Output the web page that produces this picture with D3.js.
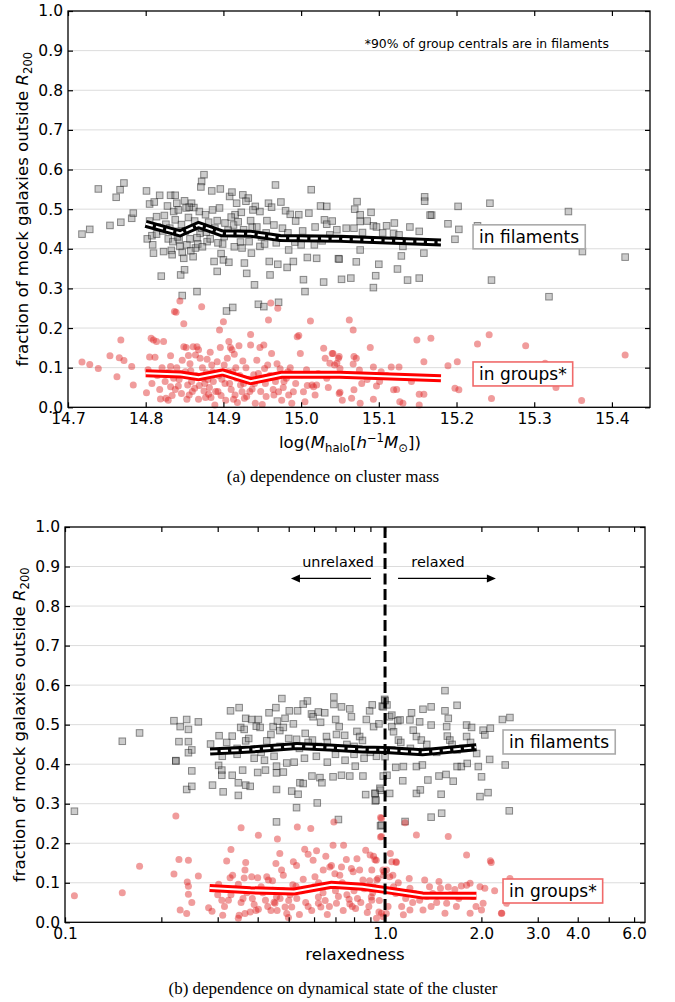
<!DOCTYPE html>
<html><head><meta charset="utf-8">
<script src="https://cdn.jsdelivr.net/npm/d3@7"></script>
<style>body{margin:0;background:#fff}svg{display:block}</style>
</head><body>
<svg id="c" width="675" height="1002"></svg>
<script>
// ---------------- DATA ----------------
// Panel (a): log halo mass vs fraction
const massFilaments = [
[14.718,0.437],[14.728,0.449],[14.739,0.551],[14.754,0.459],[14.762,0.530],[14.767,0.549],[14.772,0.566],[14.768,0.467],[14.782,0.477],[14.784,0.490],
[14.801,0.546],[14.805,0.513],[14.802,0.425],[14.808,0.433],[14.810,0.389],[14.809,0.410],[14.814,0.481],[14.814,0.437],[14.818,0.535],[14.811,0.518],
[14.820,0.331],[14.823,0.393],[14.824,0.484],[14.828,0.508],[14.832,0.535],[14.829,0.425],[14.833,0.396],[14.834,0.385],[14.838,0.535],[14.836,0.494],
[14.840,0.515],[14.838,0.473],[14.842,0.498],[14.840,0.444],[14.843,0.423],[14.844,0.406],[14.847,0.391],[14.849,0.376],[14.845,0.334],[14.850,0.347],
[14.850,0.521],[14.852,0.503],[14.847,0.282],[14.853,0.410],[14.855,0.479],[14.857,0.425],[14.859,0.515],[14.862,0.504],[14.861,0.380],[14.864,0.402],
[14.867,0.412],[14.866,0.292],[14.870,0.439],[14.872,0.452],[14.869,0.494],[14.875,0.587],[14.872,0.570],[14.871,0.556],[14.877,0.486],[14.879,0.418],
[14.881,0.467],[14.885,0.546],[14.888,0.368],[14.892,0.343],[14.892,0.471],[14.895,0.503],[14.896,0.551],[14.899,0.412],[14.900,0.372],[14.901,0.431],
[14.904,0.243],[14.907,0.366],[14.908,0.532],[14.911,0.543],[14.912,0.252],[14.913,0.460],[14.915,0.486],[14.917,0.515],[14.918,0.439],[14.922,0.417],
[14.924,0.402],[14.925,0.536],[14.927,0.364],[14.930,0.338],[14.932,0.528],[14.935,0.471],[14.936,0.389],[14.937,0.454],[14.940,0.309],[14.941,0.507],
[14.945,0.260],[14.947,0.406],[14.947,0.494],[14.952,0.254],[14.953,0.412],[14.956,0.471],[14.958,0.515],[14.959,0.368],[14.960,0.334],[14.965,0.460],
[14.967,0.561],[14.970,0.361],[14.971,0.265],[14.974,0.518],[14.980,0.496],[14.982,0.353],[14.984,0.397],[14.986,0.487],[14.990,0.368],[14.992,0.417],
[14.997,0.486],[15.000,0.410],[15.003,0.322],[15.005,0.292],[15.008,0.378],[15.013,0.549],[15.017,0.410],[15.020,0.376],[15.025,0.508],[15.029,0.316],
[15.030,0.473],[15.033,0.507],[15.033,0.462],[15.037,0.435],[15.046,0.448],[15.048,0.375],
[15.072,0.519],[15.069,0.500],[15.076,0.486],[15.090,0.492],[15.159,0.531],[15.159,0.520],[15.168,0.485],[15.202,0.507],[15.243,0.515],[15.344,0.494],
[15.076,0.469],[15.068,0.452],[15.079,0.441],[15.068,0.424],[15.076,0.397],[15.071,0.367],[15.093,0.458],[15.097,0.455],[15.110,0.458],[15.119,0.439],
[15.126,0.435],[15.131,0.406],[15.129,0.382],[15.120,0.465],[15.166,0.485],[15.152,0.444],[15.158,0.389],[15.137,0.321],[15.152,0.326],[15.124,0.349],
[15.100,0.361],[15.096,0.332],[15.093,0.302],[15.064,0.326],[15.052,0.323],[15.049,0.374],[15.189,0.463],[15.203,0.449],[15.198,0.424],[15.227,0.458],
[15.245,0.321],[15.319,0.279],[15.362,0.393],[15.417,0.379],
[14.805,0.470],[14.815,0.455],[14.822,0.445],[14.826,0.462],[14.831,0.452],[14.835,0.418],[14.841,0.430],[14.846,0.461],[14.851,0.445],[14.856,0.505],
[14.858,0.395],[14.863,0.470],[14.866,0.428],[14.873,0.405],[14.878,0.442],[14.883,0.425],[14.886,0.498],[14.889,0.452],[14.893,0.415],[14.897,0.388],
[14.902,0.465],[14.906,0.447],[14.910,0.480],[14.914,0.405],[14.919,0.468],[14.923,0.492],[14.926,0.448],[14.929,0.520],[14.933,0.418],[14.938,0.498],
[14.943,0.455],[14.949,0.430],[14.955,0.440],[14.962,0.505],[14.968,0.415],[14.976,0.452],[14.983,0.440],[14.993,0.470],[15.002,0.445],[15.010,0.490],
[15.018,0.455],[15.027,0.420],[15.040,0.470],[15.058,0.452],[15.085,0.470],[15.105,0.440],[15.140,0.455]
];
const massGroups = [
[14.718,0.114],[14.728,0.108],[14.739,0.098],[14.754,0.130],[14.763,0.077],[14.766,0.125],[14.768,0.170],[14.772,0.118],[14.782,0.103],[14.784,0.056],
[14.801,0.037],[14.805,0.127],[14.807,0.174],[14.810,0.170],[14.812,0.126],[14.814,0.166],[14.819,0.021],[14.823,0.166],[14.826,0.023],[14.829,0.018],
[14.832,0.130],[14.832,0.103],[14.832,0.052],[14.836,0.073],[14.837,0.242],[14.839,0.240],[14.842,0.054],[14.844,0.268],[14.847,0.119],[14.849,0.153],
[14.849,0.211],[14.852,0.151],[14.854,0.056],[14.855,0.131],[14.856,0.031],[14.859,0.065],[14.861,0.153],[14.864,0.132],[14.866,0.153],[14.868,0.145],
[14.870,0.124],[14.872,0.254],[14.874,0.073],[14.875,0.041],[14.878,0.087],[14.879,0.121],[14.881,0.033],[14.883,0.139],[14.885,0.107],[14.887,0.065],
[14.889,0.006],[14.892,0.115],[14.895,0.195],[14.896,0.151],[14.898,0.071],[14.900,0.216],[14.901,0.107],[14.903,0.018],[14.905,0.124],[14.907,0.166],
[14.909,0.151],[14.911,0.145],[14.912,0.090],[14.914,0.134],[14.915,0.031],[14.917,0.073],[14.920,0.155],[14.922,0.056],[14.924,0.039],[14.925,0.117],
[14.927,0.023],[14.930,0.027],[14.933,0.071],[14.935,0.184],[14.935,0.157],[14.937,0.046],[14.939,0.082],[14.941,0.010],[14.943,0.119],[14.947,0.151],
[14.950,0.007],[14.952,0.157],[14.953,0.098],[14.955,0.027],[14.957,0.107],[14.958,0.220],[14.961,0.263],[14.962,0.136],[14.965,0.031],[14.967,0.065],
[14.970,0.250],[14.971,0.039],[14.973,0.097],[14.975,0.018],[14.978,0.065],[14.981,0.073],[14.984,0.031],[14.986,0.100],[14.988,0.010],[14.990,0.039],
[14.995,0.178],[14.997,0.181],[14.999,0.136],[15.001,0.082],[15.003,0.039],[15.005,0.014],[15.008,0.055],[15.012,0.218],[15.014,0.056],[15.016,0.052],
[15.018,0.031],[15.020,0.056],[15.029,0.149],[15.031,0.124],[15.033,0.073],[15.037,0.111],[15.040,0.136],[15.043,0.107],[15.048,0.124],[15.050,0.038],
[14.838,0.045],[14.845,0.085],[14.858,0.092],[14.863,0.048],[14.868,0.020],[14.876,0.060],[14.884,0.025],[14.893,0.040],[14.908,0.060],[14.918,0.012],
[15.041,0.136],[15.049,0.128],[15.046,0.111],[15.050,0.098],[15.068,0.128],[15.071,0.124],[15.067,0.109],[15.075,0.094],[15.078,0.060],[15.068,0.044],
[15.049,0.035],[15.053,0.018],[15.065,0.023],[15.076,0.010],[15.089,0.151],[15.093,0.102],[15.097,0.054],[15.093,0.020],[15.103,0.090],[15.101,0.065],
[15.116,0.102],[15.119,0.044],[15.126,0.102],[15.123,0.045],[15.127,0.014],[15.131,0.010],[15.142,0.065],[15.149,0.170],[15.158,0.115],[15.167,0.174],
[15.152,0.033],[15.158,0.033],[15.152,0.006],[15.189,0.105],[15.198,0.048],[15.201,0.115],[15.203,0.044],[15.227,0.160],[15.242,0.183],[15.245,0.022],
[15.289,0.155],[15.314,0.111],[15.319,0.065],[15.328,0.050],[15.344,0.086],[15.361,0.017],[15.417,0.132],[15.062,0.220],[15.067,0.195],
[14.803,0.095],[14.808,0.060],[14.815,0.080],[14.818,0.045],[14.821,0.100],[14.825,0.065],[14.828,0.088],[14.834,0.030],[14.840,0.100],[14.843,0.070],
[14.846,0.035],[14.851,0.090],[14.853,0.020],[14.857,0.110],[14.860,0.040],[14.865,0.080],[14.869,0.055],[14.873,0.100],[14.877,0.025],[14.880,0.070],
[14.882,0.050],[14.886,0.090],[14.890,0.040],[14.894,0.080],[14.897,0.030],[14.902,0.060],[14.906,0.090],[14.910,0.045],[14.913,0.020],[14.916,0.100],
[14.921,0.080],[14.926,0.060],[14.929,0.100],[14.934,0.040],[14.940,0.060],[14.945,0.085],[14.948,0.040],[14.954,0.060],[14.960,0.080],[14.964,0.045],
[14.969,0.110],[14.977,0.050],[14.983,0.090],[14.993,0.060],[15.007,0.095],[15.022,0.085],[15.035,0.050],[15.058,0.080],[15.085,0.070],[15.110,0.080]
];
const massFilMedX = [14.80,14.844,14.868,14.898,14.935,14.973,15.05,15.18];
const massFilMedY = [0.463,0.439,0.460,0.439,0.438,0.427,0.425,0.416];
const massGrpMedX = [14.80,14.845,14.868,14.899,14.935,14.975,15.05,15.18];
const massGrpMedY = [0.086,0.083,0.076,0.088,0.066,0.082,0.082,0.073];

// Panel (b): relaxedness vs fraction
const relaxFilaments = [
[0.107,0.281],[0.151,0.458],[0.171,0.479],
[0.219,0.510],[0.229,0.495],[0.240,0.513],[0.243,0.488],[0.261,0.507],[0.227,0.457],[0.243,0.457],[0.249,0.436],[0.243,0.429],[0.222,0.409],
[0.285,0.451],[0.303,0.472],[0.329,0.535],[0.350,0.543],[0.333,0.471],[0.354,0.493],[0.363,0.488],[0.367,0.516],[0.367,0.459],[0.383,0.513],
[0.396,0.496],[0.407,0.493],[0.402,0.513],[0.434,0.530],[0.456,0.543],[0.427,0.459],[0.447,0.495],[0.461,0.509],[0.469,0.485],[0.481,0.493],
[0.487,0.516],[0.502,0.535],[0.517,0.502],[0.533,0.535],[0.529,0.463],[0.555,0.552],[0.572,0.560],[0.563,0.478],[0.589,0.527],[0.596,0.520],
[0.593,0.461],[0.619,0.532],[0.629,0.506],[0.648,0.530],[0.656,0.470],[0.692,0.570],[0.692,0.551],[0.701,0.513],[0.705,0.475],[0.719,0.495],
[0.731,0.545],[0.748,0.473],[0.776,0.540],[0.785,0.520],[0.817,0.483],[0.833,0.470],[0.874,0.513],[0.895,0.535],[0.912,0.550],[0.921,0.495],
[0.957,0.502],[0.980,0.547],[0.997,0.564],[1.014,0.550],[1.033,0.520],[1.050,0.495],[1.096,0.510],[0.476,0.566],
[0.222,0.408],[0.249,0.383],[0.240,0.336],[0.249,0.344],[0.302,0.397],[0.309,0.385],[0.309,0.372],[0.333,0.372],[0.359,0.385],[0.348,0.353],
[0.367,0.347],[0.379,0.344],[0.348,0.321],[0.312,0.330],[0.289,0.347],[0.400,0.379],[0.423,0.385],[0.458,0.395],[0.458,0.378],[0.481,0.380],
[0.493,0.403],[0.458,0.336],[0.511,0.332],[0.535,0.324],[0.542,0.353],[0.555,0.351],[0.614,0.302],[0.529,0.290],[0.458,0.254],[0.591,0.370],
[0.626,0.366],[0.635,0.353],[0.688,0.368],[0.731,0.372],[0.776,0.370],[0.807,0.395],[0.853,0.370],[0.870,0.323],[0.932,0.326],[0.932,0.307],
[0.968,0.334],[1.014,0.372],[0.715,0.260],[0.968,0.244],
[0.310,0.420],[0.345,0.425],[0.390,0.415],[0.420,0.410],[0.450,0.420],[0.520,0.405],[0.560,0.415],[0.610,0.420],[0.660,0.405],[0.700,0.425],
[0.750,0.410],[0.800,0.425],[0.860,0.415],[0.940,0.420],
[1.000,0.561],[0.987,0.545],[1.050,0.524],[1.114,0.512],[1.063,0.482],[1.101,0.461],[1.050,0.436],[1.000,0.419],[1.080,0.392],[1.141,0.394],
[1.136,0.358],[1.034,0.326],[0.987,0.370],[0.964,0.339],[0.930,0.326],[0.937,0.309],[1.210,0.530],[1.196,0.512],[1.283,0.507],[1.225,0.486],
[1.253,0.470],[1.298,0.461],[1.314,0.432],[1.253,0.394],[1.308,0.398],[1.361,0.360],[1.253,0.326],[1.289,0.335],[1.393,0.499],[1.314,0.539],
[1.393,0.545],[1.539,0.535],[1.576,0.516],[1.558,0.495],[1.565,0.471],[1.539,0.586],[1.679,0.549],[1.594,0.461],[1.679,0.436],[1.474,0.370],
[1.551,0.374],[1.497,0.324],[1.633,0.357],[1.679,0.394],[1.731,0.394],[1.806,0.402],[1.798,0.499],[1.864,0.493],[1.798,0.470],[1.933,0.427],
[1.956,0.394],[2.002,0.368],[2.025,0.486],[2.050,0.474],[2.133,0.491],[2.123,0.412],[2.098,0.328],[1.980,0.318],[2.326,0.513],[2.456,0.518],
[2.374,0.398],[2.444,0.282],[2.575,0.436],[1.155,0.255],[1.393,0.266],[1.503,0.276],[0.975,0.246],[4.13,0.476],[2.61,0.437],
[0.320,0.455],[0.345,0.440],[0.375,0.465],[0.410,0.430],[0.440,0.475],[0.470,0.445],[0.500,0.465],[0.540,0.440],[0.575,0.455],[0.620,0.445],
[0.660,0.455],[0.700,0.440],[0.760,0.450],[0.800,0.445],[0.850,0.460],[0.900,0.430],[1.12,0.455],[1.20,0.440],[1.35,0.450],[1.45,0.430],
[1.62,0.450],[1.75,0.440],[1.85,0.455]
];
const relaxGroups = [
[0.107,0.067],[0.151,0.075],[0.171,0.142],
[0.222,0.269],[0.227,0.159],[0.243,0.157],[0.219,0.122],[0.241,0.102],[0.243,0.091],[0.243,0.071],[0.249,0.050],[0.229,0.031],[0.240,0.022],
[0.261,0.117],[0.281,0.037],[0.288,0.028],[0.302,0.096],[0.309,0.056],[0.311,0.018],[0.320,0.155],[0.324,0.056],[0.330,0.184],[0.334,0.119],
[0.328,0.113],[0.355,0.239],[0.367,0.151],[0.365,0.132],[0.363,0.112],[0.348,0.096],[0.350,0.018],[0.348,0.010],[0.365,0.022],[0.383,0.115],
[0.379,0.026],[0.400,0.113],[0.402,0.220],[0.402,0.033],[0.427,0.115],[0.432,0.107],[0.423,0.056],[0.446,0.081],[0.450,0.051],[0.453,0.048],
[0.458,0.064],[0.461,0.211],[0.469,0.174],[0.456,0.149],[0.475,0.132],[0.481,0.119],[0.487,0.039],[0.493,0.022],[0.499,0.012],[0.511,0.039],
[0.517,0.153],[0.529,0.144],[0.527,0.091],[0.532,0.241],[0.555,0.109],[0.561,0.185],[0.575,0.172],[0.586,0.237],[0.596,0.157],[0.604,0.115],
[0.611,0.181],[0.619,0.064],[0.619,0.048],[0.630,0.039],[0.641,0.132],[0.653,0.167],[0.672,0.140],[0.680,0.144],[0.688,0.195],[0.692,0.254],
[0.697,0.123],[0.705,0.048],[0.722,0.119],[0.731,0.140],[0.742,0.195],[0.757,0.159],[0.772,0.058],[0.776,0.046],[0.785,0.136],[0.795,0.128],
[0.809,0.035],[0.817,0.161],[0.833,0.132],[0.853,0.107],[0.870,0.182],[0.895,0.105],[0.906,0.064],[0.921,0.167],[0.939,0.157],[0.950,0.111],
[0.957,0.026],[0.968,0.265],[0.968,0.216],[0.985,0.132],[0.990,0.119],[1.009,0.022],[1.058,0.119],[1.083,0.153],
[0.330,0.070],[0.360,0.060],[0.390,0.045],[0.415,0.075],[0.440,0.030],[0.470,0.060],[0.505,0.070],[0.540,0.020],[0.565,0.050],[0.590,0.030],
[0.640,0.075],[0.660,0.020],[0.700,0.080],[0.740,0.030],[0.800,0.080],[0.840,0.050],[0.880,0.025],[0.920,0.090],[0.960,0.055],[0.940,0.010],
[0.975,0.263],[0.975,0.217],[0.898,0.170],[0.930,0.158],[0.909,0.132],[0.942,0.107],[0.930,0.086],[0.909,0.056],[1.039,0.174],[1.050,0.153],
[1.084,0.151],[1.011,0.132],[0.993,0.128],[1.034,0.115],[1.063,0.090],[1.080,0.073],[1.022,0.040],[0.975,0.023],[0.987,0.014],[1.127,0.040],
[1.141,0.019],[1.196,0.031],[1.190,0.111],[1.155,0.252],[1.253,0.221],[1.330,0.107],[1.377,0.090],[1.409,0.073],[1.474,0.103],[1.490,0.086],
[1.576,0.217],[1.576,0.089],[1.652,0.083],[1.731,0.092],[1.798,0.170],[1.798,0.094],[1.844,0.099],[1.980,0.090],[2.025,0.048],[2.050,0.086],
[2.133,0.156],[2.147,0.151],[2.002,0.031],[1.924,0.040],[1.844,0.023],[1.671,0.040],[1.539,0.023],[1.558,0.048],[1.393,0.040],[1.283,0.056],
[1.314,0.031],[2.316,0.023],[2.456,0.111],[2.397,0.048],[1.237,0.073],[1.196,0.086],[2.31,0.023],[2.61,0.069],[4.14,0.068],
[0.300,0.070],[0.315,0.040],[0.340,0.085],[0.355,0.050],[0.370,0.075],[0.385,0.060],[0.395,0.030],[0.410,0.090],[0.430,0.040],[0.445,0.105],
[0.460,0.030],[0.480,0.080],[0.500,0.055],[0.515,0.095],[0.530,0.060],[0.550,0.080],[0.575,0.040],[0.600,0.090],[0.620,0.100],[0.650,0.055],
[0.670,0.040],[0.690,0.095],[0.715,0.065],[0.735,0.100],[0.760,0.070],[0.790,0.040],[0.820,0.060],[0.860,0.085],[0.890,0.040],[0.915,0.075],
[1.10,0.100],[1.16,0.060],[1.22,0.050],[1.35,0.065],[1.45,0.050],[1.60,0.070],[1.70,0.060],[1.88,0.065],[2.20,0.080]
];
const relaxFilMedX = [0.284,0.38,0.53,0.67,0.85,1.0,1.31,1.93];
const relaxFilMedY = [0.432,0.437,0.446,0.442,0.437,0.436,0.430,0.443];
const relaxGrpMedX = [0.283,0.38,0.52,0.68,0.85,1.0,1.31,1.93];
const relaxGrpMedY = [0.087,0.081,0.078,0.095,0.090,0.082,0.068,0.067];

// Ticks / labels
const yTicks = [0,0.1,0.2,0.3,0.4,0.5,0.6,0.7,0.8,0.9,1.0];
const yTickLabels = ["0.0","0.1","0.2","0.3","0.4","0.5","0.6","0.7","0.8","0.9","1.0"];
const massTicks = [14.7,14.8,14.9,15.0,15.1,15.2,15.3,15.4];
const massTickLabels = ["14.7","14.8","14.9","15.0","15.1","15.2","15.3","15.4"];
const relaxTicks = [0.1,0.2,0.3,0.4,0.5,0.6,0.7,0.8,0.9,1,2,3,4,5,6];
const relaxTickLabels = ["0.1","","","","","","","","","1.0","2.0","3.0","4.0","","6.0"];

// ---------------- DRAWING ----------------
const svg = d3.select("#c");
const FONT = "DejaVu Sans";

function panel(cfg) {
  const g = svg.append("g");
  const x = cfg.x, y = cfg.y;
  const [x0, x1] = x.range(), [y0, y1] = y.range(); // y0 bottom
  g.selectAll(".grid").data(yTicks.slice(1, -1)).join("line")
    .attr("x1", x0).attr("x2", x1).attr("y1", d => y(d)).attr("y2", d => y(d))
    .attr("stroke", "#dcdcdc").attr("stroke-width", 1);
  const s = 6.6;
  g.append("g").selectAll("rect").data(cfg.fil).join("rect")
    .attr("x", d => x(d[0]) - s / 2).attr("y", d => y(d[1]) - s / 2)
    .attr("width", s).attr("height", s)
    .attr("fill", "rgba(128,128,128,0.4)").attr("stroke", "rgba(0,0,0,0.42)").attr("stroke-width", 1);
  g.append("g").selectAll("circle").data(cfg.grp).join("circle")
    .attr("cx", d => x(d[0])).attr("cy", d => y(d[1])).attr("r", 3.5)
    .attr("fill", "rgba(222,36,36,0.45)");
  const line = d3.line().x(d => x(d[0])).y(d => y(d[1]));
  const filMed = cfg.filMedX.map((v, i) => [v, cfg.filMedY[i]]);
  const grpMed = cfg.grpMedX.map((v, i) => [v, cfg.grpMedY[i]]);
  g.append("path").attr("d", line(filMed)).attr("fill", "none").attr("stroke", "#000").attr("stroke-width", 8).attr("stroke-linejoin", "miter");
  g.append("path").attr("d", line(filMed)).attr("fill", "none").attr("stroke", "#fff").attr("stroke-width", 2).attr("stroke-dasharray", "7.4,3.2");
  g.append("path").attr("d", line(grpMed)).attr("fill", "none").attr("stroke", "#ff0000").attr("stroke-width", 8).attr("stroke-linejoin", "miter");
  g.append("path").attr("d", line(grpMed)).attr("fill", "none").attr("stroke", "#fff").attr("stroke-width", 2);
  if (cfg.extra) cfg.extra(g, x, y);
  const fs = "15.5px";
  const ax = g.append("g").attr("transform", `translate(0,${y0})`)
    .call(d3.axisBottom(x).tickValues(cfg.xTicks).tickFormat((d, i) => cfg.xTickLabels[i]).tickSize(-5).tickPadding(6));
  const ay = g.append("g").attr("transform", `translate(${x0},0)`)
    .call(d3.axisLeft(y).tickValues(yTicks).tickFormat((d, i) => yTickLabels[i]).tickSize(-5).tickPadding(5));
  const at = g.append("g").attr("transform", `translate(0,${y1})`)
    .call(d3.axisTop(x).tickValues(cfg.xTicks).tickFormat("").tickSize(-5));
  const ar = g.append("g").attr("transform", `translate(${x1},0)`)
    .call(d3.axisRight(y).tickValues(yTicks).tickFormat("").tickSize(-5));
  [ax, ay, at, ar].forEach(a => {
    a.select(".domain").remove();
    a.selectAll(".tick line").attr("stroke", "#000").attr("stroke-width", 1.2);
    a.selectAll(".tick text").attr("font-family", FONT).attr("font-size", fs).attr("fill", "#000");
  });
  g.append("rect").attr("x", x0).attr("y", y1).attr("width", x1 - x0).attr("height", y0 - y1)
    .attr("fill", "none").attr("stroke", "#000").attr("stroke-width", 1.3);
  const yl = g.append("text").attr("transform", `translate(${x0 - 40},${(y0 + y1) / 2}) rotate(-90)`)
    .attr("text-anchor", "middle").attr("font-family", FONT).attr("font-size", "16.6px");
  yl.append("tspan").text("fraction of mock galaxies outside ");
  yl.append("tspan").attr("font-style", "italic").text("R");
  yl.append("tspan").attr("font-size", "11.6px").attr("dy", 3.5).text("200");
  return g;
}

function boxLabel(g, px, py, txt, color) {
  const t = g.append("text").attr("x", px).attr("y", py).attr("font-family", FONT).attr("font-size", "17px").attr("fill", "#000").text(txt);
  const b = t.node().getBBox();
  g.insert("rect", () => t.node()).attr("x", b.x - 6).attr("y", b.y - 2).attr("width", b.width + 12).attr("height", b.height + 4)
    .attr("fill", "#fff").attr("stroke", color).attr("stroke-width", 1.6);
}

// Panel (a)
const xa = d3.scaleLinear().domain([14.7, 15.449]).range([68, 650]);
const ya = d3.scaleLinear().domain([0, 1]).range([407.3, 11]);
const ga = panel({x: xa, y: ya, fil: massFilaments, grp: massGroups,
  filMedX: massFilMedX, filMedY: massFilMedY, grpMedX: massGrpMedX, grpMedY: massGrpMedY,
  xTicks: massTicks, xTickLabels: massTickLabels,
  extra: (g, x, y) => {
    g.append("text").attr("x", x(15.239)).attr("y", y(0.907)).attr("text-anchor", "middle")
      .attr("font-family", FONT).attr("font-size", "12.4px").attr("fill", "#000").text("*90% of group centrals are in filaments");
  }});
boxLabel(ga, xa(15.229), ya(0.415), "in filaments", "#aaaaaa");
boxLabel(ga, xa(15.229), ya(0.069), "in groups*", "#f06a6a");
{
  const t = ga.append("text").attr("x", 350).attr("y", 448).attr("text-anchor", "middle").attr("font-family", FONT).attr("font-size", "16.6px");
  t.append("tspan").text("log(");
  t.append("tspan").attr("font-style", "italic").text("M");
  t.append("tspan").attr("font-size", "11.6px").attr("dy", 3.5).text("halo");
  t.append("tspan").attr("dy", -3.5).text("[");
  t.append("tspan").attr("font-style", "italic").text("h");
  t.append("tspan").attr("font-size", "11.6px").attr("dy", -6.5).text("\u22121");
  t.append("tspan").attr("font-style", "italic").attr("dy", 6.5).text("M");
  t.append("tspan").attr("font-size", "11.6px").attr("dy", 3.5).text("\u2299");
  t.append("tspan").attr("dy", -3.5).text("])");
}
svg.append("text").attr("x", 333).attr("y", 482).attr("text-anchor", "middle")
  .attr("font-family", "Liberation Serif").attr("font-size", "17px").text("(a) dependence on cluster mass");

// Panel (b)
const xb = d3.scaleLog().domain([0.1, 6.49]).range([65, 645]);
const yb = d3.scaleLinear().domain([0, 1]).range([922.3, 527]);
const gb = panel({x: xb, y: yb, fil: relaxFilaments, grp: relaxGroups,
  filMedX: relaxFilMedX, filMedY: relaxFilMedY, grpMedX: relaxGrpMedX, grpMedY: relaxGrpMedY,
  xTicks: relaxTicks, xTickLabels: relaxTickLabels,
  extra: (g, x, y) => {
    g.append("line").attr("x1", x(1)).attr("x2", x(1)).attr("y1", y(1)).attr("y2", y(0))
      .attr("stroke", "#000").attr("stroke-width", 3).attr("stroke-dasharray", "11,4.5");
    const arrow = (xa0, xa1, yv) => {
      const px0 = x(xa0), px1 = x(xa1), py = y(yv);
      const dir = Math.sign(px1 - px0);
      g.append("line").attr("x1", px0).attr("x2", px1 - dir * 8).attr("y1", py).attr("y2", py).attr("stroke", "#000").attr("stroke-width", 1.3);
      g.append("path").attr("d", `M${px1},${py} L${px1 - dir * 9},${py - 4} L${px1 - dir * 9},${py + 4} Z`).attr("fill", "#000");
    };
    arrow(0.904, 0.508, 0.870);
    arrow(1.098, 2.22, 0.870);
    g.append("text").attr("x", x(0.713)).attr("y", y(0.898)).attr("text-anchor", "middle").attr("font-family", FONT).attr("font-size", "14.4px").text("unrelaxed");
    g.append("text").attr("x", x(1.464)).attr("y", y(0.898)).attr("text-anchor", "middle").attr("font-family", FONT).attr("font-size", "14.4px").text("relaxed");
  }});
boxLabel(gb, xb(2.44), yb(0.441), "in filaments", "#aaaaaa");
boxLabel(gb, xb(2.44), yb(0.064), "in groups*", "#f06a6a");
gb.append("text").attr("x", 355).attr("y", 960).attr("text-anchor", "middle").attr("font-family", FONT).attr("font-size", "16.6px").text("relaxedness");
svg.append("text").attr("x", 333).attr("y", 994).attr("text-anchor", "middle")
  .attr("font-family", "Liberation Serif").attr("font-size", "17px").text("(b) dependence on dynamical state of the cluster");
</script>
</body></html>
